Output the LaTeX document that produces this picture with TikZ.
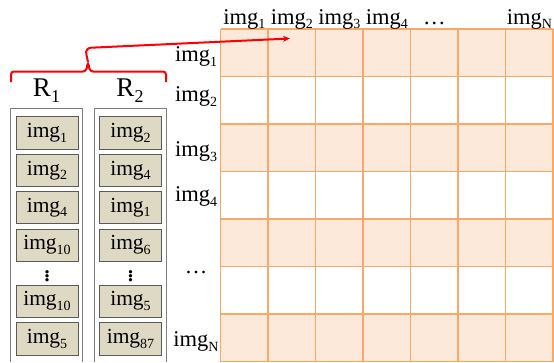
\documentclass[tikz,border=0pt]{standalone}
\usepackage{fontspec}
\setmainfont{Liberation Serif}
\usetikzlibrary{arrows.meta}
\definecolor{gridline}{RGB}{248,168,104}
\definecolor{gridfill}{RGB}{253,233,218}
\definecolor{cellfill}{RGB}{221,217,195}
\definecolor{cellline}{RGB}{90,90,90}
\definecolor{boxline}{RGB}{128,128,128}
\newcommand{\im}[1]{img\raisebox{-0.22em}{\fontsize{14}{14}\selectfont #1}}
\tikzset{
  lbl/.style={inner sep=0pt, anchor=base, font=\fontsize{22.5}{22.5}\selectfont},
  cell/.style={draw=cellline, fill=cellfill, line width=0.8pt, minimum width=62pt,
    minimum height=32.5pt, inner sep=0pt, font=\fontsize{21.5}{21.5}\selectfont},
  vdotsnode/.style={inner sep=0pt, font=\fontsize{28}{28}\selectfont},
  colbox/.style={draw=boxline, line width=0.8pt},
  rlabel/.style={inner sep=0pt, anchor=base, font=\fontsize{27}{27}\selectfont},
  redline/.style={draw=red, line width=2pt}
}
\begin{document}
\begin{tikzpicture}[x=1pt, y=-1pt]
\useasboundingbox (0,0) rectangle (554,362);

% similarity matrix: shaded odd rows, then grid lines
\foreach \r in {0,2,4,6}
  \fill[gridfill] (220.5,29+47.5*\r) rectangle (553,76.5+47.5*\r);
\foreach \i in {0,...,7}
  \draw[gridline, line width=1.3pt] (220.5+47.5*\i,29) -- (220.5+47.5*\i,361.5);
\foreach \i in {0,...,7}
  \draw[gridline, line width=1.3pt] (220.5,29+47.5*\i) -- (553,29+47.5*\i);

% column headers
\node[lbl] (c1) at (244.3,24) {\im{1}};
\node[lbl] (c2) at (291.8,24) {\im{2}};
\node[lbl] (c3) at (339.3,24) {\im{3}};
\node[lbl] (c4) at (386.8,24) {\im{4}};
\node[lbl] (c5) at (434.3,24) {\dots};
\node[lbl] (c7) at (529.3,24) {\im{N}};

% row headers
\node[lbl] (r1) at (196,61.7) {\im{1}};
\node[lbl] (r2) at (196,101.7) {\im{2}};
\node[lbl] (r3) at (196,156.7) {\im{3}};
\node[lbl] (r4) at (196,201.7) {\im{4}};
\node[lbl] (r5) at (196,273) {\dots};
\node[lbl] (r7) at (196,346.7) {\im{N}};

% ranked lists
\draw[colbox] (10.7,362) -- (10.7,108) -- (82.3,108) -- (82.3,362);
\draw[colbox] (94,362) -- (94,108) -- (166,108) -- (166,362);
\node[rlabel] (R1) at (46.5,96.7) {R\raisebox{-0.22em}{\fontsize{18}{18}\selectfont 1}};
\node[rlabel] (R2) at (130,96.7) {R\raisebox{-0.22em}{\fontsize{18}{18}\selectfont 2}};

\node[cell] (a1) at (47,133) {\im{1}};
\node[cell] (a2) at (47,170.3) {\im{2}};
\node[cell] (a3) at (47,207.5) {\im{4}};
\node[cell] (a4) at (47,245.2) {\im{10}};
\node[vdotsnode] (a5) at (47,273) {$\vdots$};
\node[cell] (a6) at (47,301.2) {\im{10}};
\node[cell] (a7) at (47,338.9) {\im{5}};

\node[cell] (b1) at (130.5,133) {\im{2}};
\node[cell] (b2) at (130.5,170.3) {\im{4}};
\node[cell] (b3) at (130.5,207.5) {\im{1}};
\node[cell] (b4) at (130.5,245.2) {\im{6}};
\node[vdotsnode] (b5) at (130.5,273) {$\vdots$};
\node[cell] (b6) at (130.5,301.2) {\im{5}};
\node[cell] (b7) at (130.5,338.9) {\im{87}};

% brace over both lists and arrow into the matrix
\coordinate (tip) at (88,62);
\coordinate (target) at (290,38.5);
\draw[redline, rounded corners=3pt] (11,82) -- (11,71.5) -- (86,71.5) -- (88,62) -- (90,71.5) -- (166,71.5) -- (166,82);
\draw[redline, -{Stealth[length=7pt,width=6pt]}, rounded corners=6pt] (tip) -- (85,48) -- (target);
\end{tikzpicture}
\end{document}
